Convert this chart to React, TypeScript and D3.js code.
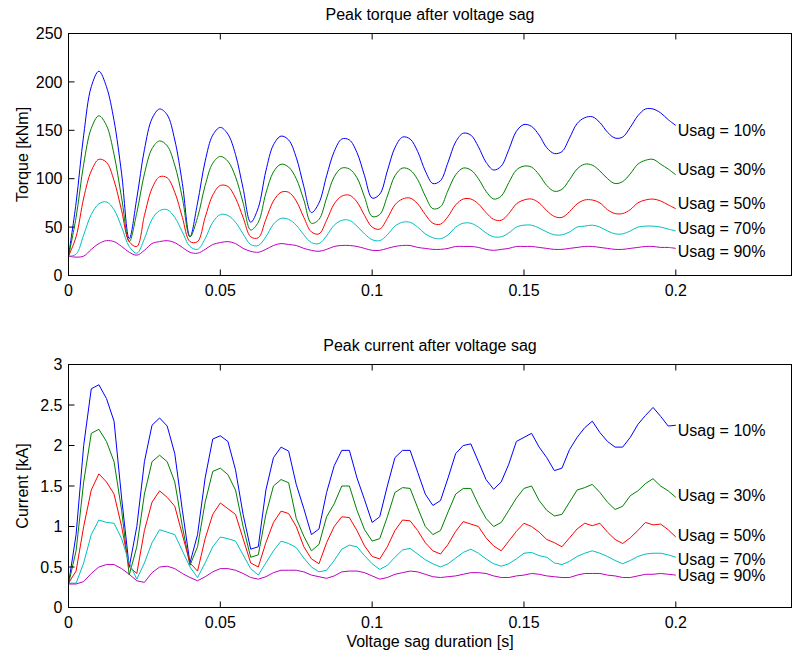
import React from 'react';
import * as d3 from 'd3';

// sample grid of the sag duration axis (s)
const time = d3.range(81).map(i => i * 0.0025);

const seriesNames = ['Usag = 10%', 'Usag = 30%', 'Usag = 50%', 'Usag = 70%', 'Usag = 90%'];
const seriesColors = ['#0000ff', '#008000', '#ff0000', '#00bfbf', '#bf00bf'];

const xTicks = [0, 0.05, 0.1, 0.15, 0.2];
const xTickLabels = ['0', '0.05', '0.1', '0.15', '0.2'];
const torqueTicks = [0, 50, 100, 150, 200, 250];
const currentTicks = [0, 0.5, 1, 1.5, 2, 2.5, 3];
const currentTickLabels = ['0', '0.5', '1', '1.5', '2', '2.5', '3'];

// peak torque [kNm]
const torque10 = [20, 75, 145, 195, 211, 195, 160, 105, 38, 80, 130, 162, 172, 166, 140, 95, 40, 75, 118, 145, 153, 146, 125, 90, 55, 70, 108, 135, 144, 140, 122, 92, 65, 75, 103, 128, 141, 140, 127, 103, 80, 84, 108, 132, 143, 141, 128, 108, 95, 98, 117, 138, 147, 145, 133, 117, 109, 113, 130, 149, 156, 154, 145, 132, 126, 128, 142, 157, 163, 164, 158, 148, 142, 143, 153, 165, 172, 172, 168, 161, 155];
const torque30 = [20, 60, 115, 152, 165, 155, 125, 80, 35, 65, 105, 131, 139, 134, 114, 80, 40, 60, 93, 116, 123, 118, 102, 75, 47, 55, 85, 107, 115, 112, 100, 78, 54, 58, 80, 102, 111, 110, 101, 81, 61, 63, 82, 103, 111, 109, 99, 82, 69, 71, 88, 104, 111, 109, 100, 87, 79, 82, 96, 109, 113, 112, 104, 93, 87, 89, 99, 110, 115, 114, 108, 100, 95, 97, 105, 115, 119, 120, 115, 110, 104];
const torque50 = [20, 40, 80, 108, 120, 117, 98, 67, 35, 30, 62, 90, 102, 101, 86, 60, 35, 35, 60, 83, 93, 92, 80, 60, 40, 39, 58, 77, 86, 86, 77, 60, 45, 43, 57, 74, 82, 83, 76, 62, 50, 48, 59, 73, 79, 80, 74, 63, 54, 53, 61, 73, 79, 79, 74, 65, 58, 57, 64, 74, 78, 79, 75, 67, 61, 60, 66, 74, 78, 78, 75, 68, 64, 64, 68, 75, 78, 79, 77, 73, 69];
const torque70 = [20, 22, 42, 63, 74, 76, 68, 50, 30, 23, 38, 58, 67, 68, 60, 45, 30, 27, 38, 55, 63, 62, 55, 43, 32, 31, 40, 53, 59, 58, 52, 42, 34, 33, 41, 52, 57, 57, 51, 43, 37, 36, 42, 51, 55, 55, 50, 43, 39, 38, 42, 50, 54, 54, 50, 44, 40, 40, 44, 50, 52, 52, 49, 45, 42, 42, 45, 50, 51, 52, 50, 46, 43, 43, 46, 50, 51, 51, 50, 48, 46];
const torque90 = [20, 19, 20, 27, 33, 36, 35, 30, 24, 21, 26, 33, 35, 36, 34, 29, 24, 23, 27, 32, 34, 35, 33, 28, 25, 24, 27, 31, 33, 32, 31, 28, 26, 25, 27, 30, 31, 31, 30, 28, 26, 26, 28, 30, 31, 31, 29, 28, 27, 27, 28, 30, 30, 30, 29, 27, 26, 27, 28, 30, 30, 30, 29, 28, 27, 27, 28, 29, 30, 30, 29, 28, 27, 27, 28, 29, 30, 30, 29, 29, 28];
// value drawn at the left edge just before the first sample
const torqueStart = [20, 20, 102, 66, 45];
const torqueLabelY = [150, 110, 74, 49, 25];

// peak current [kA]
const current10 = [0.29, 0.9, 2.0, 2.7, 2.75, 2.58, 2.3, 1.35, 0.5, 1.0, 1.8, 2.25, 2.34, 2.24, 1.9, 1.2, 0.55, 0.9, 1.6, 2.08, 2.12, 2.05, 1.7, 1.15, 0.72, 0.75, 1.45, 1.85, 1.98, 1.93, 1.52, 1.22, 0.9, 0.97, 1.42, 1.75, 1.94, 1.94, 1.6, 1.33, 1.05, 1.12, 1.5, 1.85, 1.94, 1.94, 1.67, 1.4, 1.26, 1.32, 1.6, 1.9, 2.0, 2.02, 1.8, 1.58, 1.46, 1.55, 1.77, 2.05, 2.1, 2.15, 1.98, 1.85, 1.69, 1.72, 1.95, 2.1, 2.22, 2.3, 2.16, 2.05, 1.98, 1.98, 2.1, 2.26, 2.37, 2.47, 2.36, 2.24, 2.25];
const current30 = [0.29, 0.7, 1.55, 2.15, 2.2, 2.05, 1.8, 1.2, 0.4, 0.75, 1.4, 1.8, 1.88, 1.8, 1.55, 1.0, 0.52, 0.75, 1.3, 1.68, 1.72, 1.64, 1.45, 1.0, 0.62, 0.65, 1.15, 1.5, 1.58, 1.54, 1.1, 0.88, 0.7, 0.78, 1.12, 1.28, 1.5, 1.5, 1.2, 0.96, 0.82, 0.85, 1.12, 1.42, 1.48, 1.47, 1.23, 1.0, 0.9, 0.95, 1.18, 1.4, 1.47, 1.47, 1.27, 1.1, 1.0, 1.05, 1.2, 1.35, 1.47, 1.5, 1.32, 1.2, 1.13, 1.15, 1.3, 1.45, 1.48, 1.52, 1.42, 1.3, 1.21, 1.25, 1.38, 1.44, 1.53, 1.59, 1.5, 1.44, 1.36];
const current50 = [0.3, 0.45, 1.0, 1.45, 1.65, 1.55, 1.4, 1.0, 0.5, 0.42, 0.95, 1.3, 1.44, 1.36, 1.25, 0.9, 0.55, 0.45, 0.85, 1.15, 1.29, 1.22, 1.15, 0.85, 0.55, 0.5, 0.8, 1.05, 1.19, 1.16, 1.0, 0.75, 0.6, 0.54, 0.8, 1.0, 1.12, 1.11, 0.95, 0.76, 0.63, 0.6, 0.75, 0.95, 1.08, 1.07, 0.95, 0.8, 0.7, 0.66, 0.78, 0.94, 1.06, 1.03, 1.0, 0.86, 0.76, 0.7, 0.82, 0.94, 1.04, 1.0, 0.93, 0.84, 0.8, 0.75, 0.86, 0.97, 1.04, 1.01, 1.04, 0.93, 0.84, 0.79, 0.86, 0.95, 1.05, 1.02, 1.03, 0.96, 0.87];
const current70 = [0.3, 0.3, 0.55, 0.9, 1.08, 1.05, 1.04, 0.85, 0.55, 0.35, 0.55, 0.8, 0.96, 0.93, 0.9, 0.7, 0.5, 0.37, 0.55, 0.75, 0.87, 0.85, 0.82, 0.65, 0.48, 0.4, 0.55, 0.7, 0.82, 0.79, 0.74, 0.61, 0.5, 0.44, 0.46, 0.58, 0.72, 0.77, 0.75, 0.64, 0.54, 0.47, 0.52, 0.62, 0.71, 0.73, 0.66, 0.59, 0.54, 0.5, 0.54, 0.61, 0.68, 0.72, 0.67, 0.6, 0.54, 0.51, 0.54, 0.6, 0.67, 0.68, 0.64, 0.62, 0.55, 0.53, 0.57, 0.63, 0.67, 0.7, 0.67, 0.63, 0.58, 0.54, 0.58, 0.63, 0.66, 0.67, 0.67, 0.65, 0.62];
const current90 = [0.29, 0.29, 0.32, 0.42, 0.5, 0.53, 0.53, 0.48, 0.41, 0.33, 0.31, 0.43, 0.5, 0.51, 0.48, 0.42, 0.37, 0.33, 0.38, 0.44, 0.48, 0.48, 0.46, 0.42, 0.37, 0.35, 0.38, 0.43, 0.46, 0.46, 0.46, 0.44, 0.4, 0.38, 0.36, 0.39, 0.44, 0.45, 0.45, 0.43, 0.39, 0.35, 0.37, 0.41, 0.43, 0.45, 0.44, 0.41, 0.38, 0.37, 0.38, 0.39, 0.41, 0.43, 0.43, 0.42, 0.39, 0.37, 0.37, 0.39, 0.4, 0.42, 0.41, 0.39, 0.38, 0.37, 0.37, 0.4, 0.42, 0.42, 0.42, 0.4, 0.39, 0.37, 0.37, 0.39, 0.41, 0.41, 0.42, 0.41, 0.4];
const currentStart = [0.3, 0.3, 1.35, 0.9, 0.3];
const currentLabelY = [2.19, 1.38, 0.89, 0.6, 0.4];

const W = 793;
const H = 657;
const FONT = '"Liberation Sans", Arial, Helvetica, sans-serif';

const x = d3.scaleLinear().domain([0, 0.2381]).range([68.5, 791.5]);

type PanelProps = {
  top: number;
  bottom: number;
  yMax: number;
  yTicks: number[];
  yTickLabels: string[];
  title: string;
  yLabel: string;
  series: number[][];
  starts: number[];
  labelY: number[];
  curve: d3.CurveFactory;
};

const Panel = ({ top, bottom, yMax, yTicks, yTickLabels, title, yLabel, series, starts, labelY, curve }: PanelProps) => {
  const y = d3.scaleLinear().domain([0, yMax]).range([bottom, top]);
  const [x0, x1] = x.range();
  const line = d3.line<number>()
    .x((d, i) => x(time[i]))
    .y(d => y(d))
    .curve(curve);

  return (
    <g>
      <text x={(x0 + x1) / 2} y={top - 14} textAnchor="middle" fontSize={16}>{title}</text>
      <text
        transform={`translate(28, ${(top + bottom) / 2}) rotate(-90)`}
        textAnchor="middle"
        fontSize={16}
      >{yLabel}</text>

      {series.map((vals, k) => (
        <g key={k}>
          <line x1={x(0)} x2={x(0)} y1={y(starts[k])} y2={y(vals[0])} stroke={seriesColors[k]} strokeWidth={1} />
          <path d={line(vals) || ''} fill="none" stroke={seriesColors[k]} strokeWidth={1} />
          <text x={x(0.2) + 2} y={y(labelY[k])} dy="0.35em" fontSize={16}>{seriesNames[k]}</text>
        </g>
      ))}

      {xTicks.map((t, i) => (
        <g key={'xt' + i}>
          <line x1={x(t)} x2={x(t)} y1={bottom} y2={bottom - 6} stroke="#000" />
          <line x1={x(t)} x2={x(t)} y1={top} y2={top + 6} stroke="#000" />
          <text x={x(t)} y={bottom + 20} textAnchor="middle" fontSize={16}>{xTickLabels[i]}</text>
        </g>
      ))}
      {yTicks.map((v, i) => (
        <g key={'yt' + i}>
          <line x1={x0} x2={x0 + 6} y1={y(v)} y2={y(v)} stroke="#000" />
          <text x={x0 - 6} y={y(v)} dy="0.35em" textAnchor="end" fontSize={16}>{yTickLabels[i]}</text>
        </g>
      ))}
      <rect x={x0} y={top} width={x1 - x0} height={bottom - top} fill="none" stroke="#000" strokeWidth={1} />
    </g>
  );
};

export default function App() {
  return (
    <svg
      width={W}
      height={H}
      viewBox={`0 0 ${W} ${H}`}
      style={{ position: 'absolute', left: 0, top: 0, background: '#fff' }}
      fontFamily={FONT}
    >
      <rect width={W} height={H} fill="#fff" />
      <Panel
        top={33.5}
        bottom={275.5}
        yMax={250}
        yTicks={torqueTicks}
        yTickLabels={torqueTicks.map(String)}
        title="Peak torque after voltage sag"
        yLabel="Torque [kNm]"
        series={[torque10, torque30, torque50, torque70, torque90]}
        starts={torqueStart}
        labelY={torqueLabelY}
        curve={d3.curveCatmullRom}
      />
      <Panel
        top={364.5}
        bottom={607.5}
        yMax={3}
        yTicks={currentTicks}
        yTickLabels={currentTickLabels}
        title="Peak current after voltage sag"
        yLabel="Current [kA]"
        series={[current10, current30, current50, current70, current90]}
        starts={currentStart}
        labelY={currentLabelY}
        curve={d3.curveLinear}
      />
      <text x={(x.range()[0] + x.range()[1]) / 2} y={647} textAnchor="middle" fontSize={16}>
        Voltage sag duration [s]
      </text>
    </svg>
  );
}
